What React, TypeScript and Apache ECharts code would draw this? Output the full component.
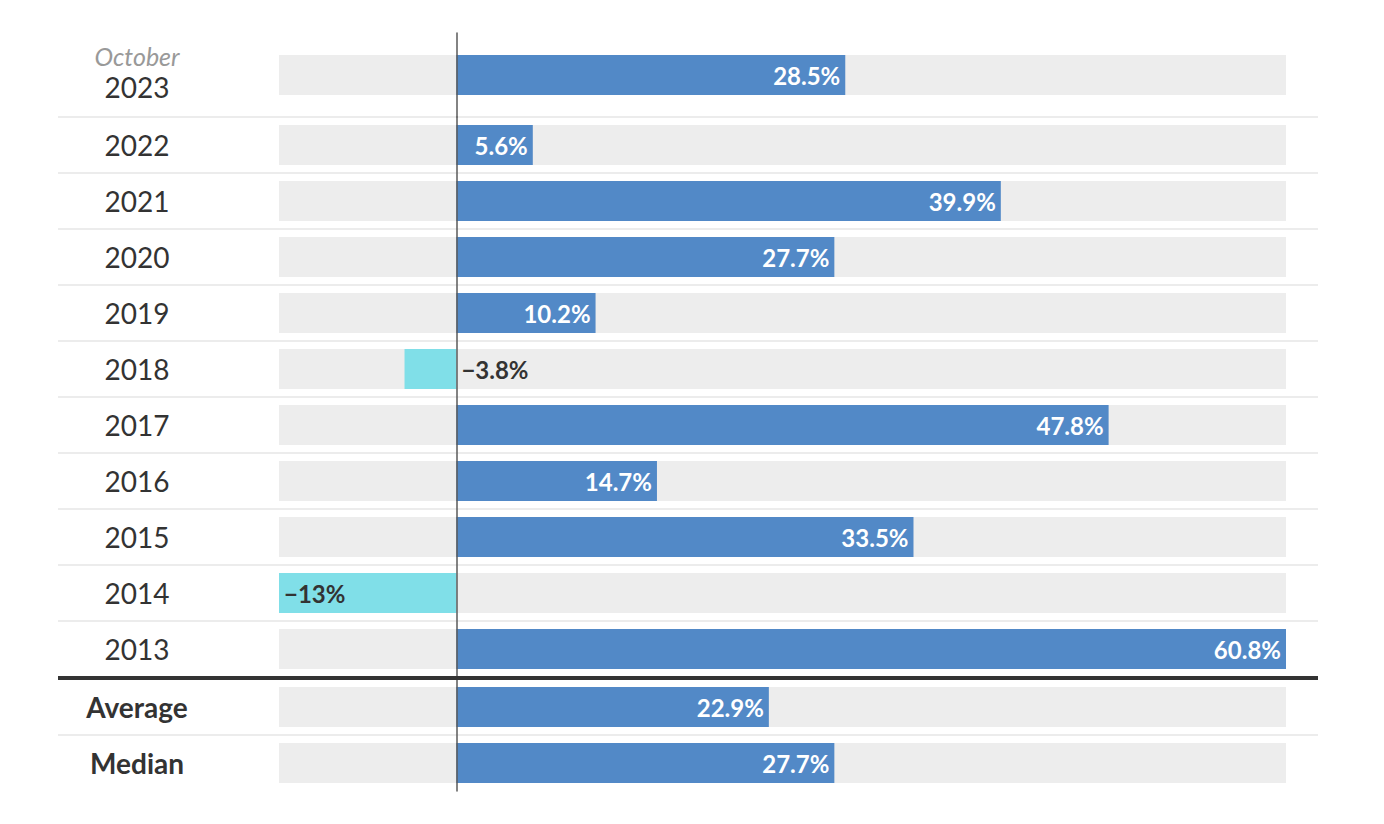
import React, { useEffect, useRef } from "react";
import * as echarts from "echarts";

const topCategories = ["2023"];
const topValues = [28.5];
const yearCategories = ["2022", "2021", "2020", "2019", "2018", "2017", "2016", "2015", "2014", "2013"];
const yearValues = [5.6, 39.9, 27.7, 10.2, -3.8, 47.8, 14.7, 33.5, -13, 60.8];
const summaryCategories = ["Average", "Median"];
const summaryValues = [22.9, 27.7];
const topNote = "October";

const FONT = "Lato, 'Noto Sans', sans-serif";
const BLUE = "#5289c7";
const CYAN = "#80dfe8";
const BG = "#ededed";
const X_MIN = -13;
const X_MAX = 60.8;

function fmt(v: number): string {
  const s = String(Math.abs(v));
  return (v < 0 ? "\u2212" : "") + s + "%";
}

function makeItems(values: number[]) {
  return values.map((v) => {
    let label: any;
    if (v >= 0) {
      label = { position: "insideRight", color: "#fff" };
    } else if (Math.abs(v) < 8) {
      label = { position: "right", color: "#333" };
    } else {
      label = { position: "insideLeft", color: "#333" };
    }
    return {
      value: v,
      itemStyle: { color: v >= 0 ? BLUE : CYAN },
      label,
    };
  });
}

export default function App() {
  const ref = useRef<HTMLDivElement>(null);
  useEffect(() => {
    document.body.style.margin = "0";
    if (!ref.current) return;
    const chart = echarts.init(ref.current, undefined, { renderer: "svg" });

    const grids = [
      { left: 279, right: 98, top: 33, height: 84 },
      { left: 279, right: 98, top: 117, height: 560 },
      { left: 279, right: 98, top: 679, height: 112 },
    ];
    const cats = [topCategories, yearCategories, summaryCategories];
    const vals = [topValues, yearValues, summaryValues];

    const xAxis = grids.map((_, i) => ({
      type: "value",
      gridIndex: i,
      min: X_MIN,
      max: X_MAX,
      show: false,
    }));

    const yAxis = grids.map((_, i) => ({
      type: "category",
      gridIndex: i,
      data: cats[i],
      inverse: true,
      axisTick: { show: false },
      splitLine: { show: false },
      axisLine: { show: true, onZero: true, lineStyle: { color: "#5a5a5a", width: 1.5 } },
      axisLabel: {
        margin: 142,
        align: "center",
        fontFamily: FONT,
        fontSize: 28,
        color: "#333",
        fontWeight: i === 2 ? "bold" : "normal",
        padding: i === 0 ? [0, 0, 8, 0] : 0,
        formatter:
          i === 0
            ? (v: string) => `{o|${topNote}}\n{y|${v}}`
            : undefined,
        rich:
          i === 0
            ? {
                o: { fontFamily: FONT, fontSize: 25, fontStyle: "italic", color: "#999", lineHeight: 31, align: "center" },
                y: { fontFamily: FONT, fontSize: 28, color: "#333", lineHeight: 31, align: "center" },
              }
            : undefined,
      },
      z: 5,
    }));

    const series = grids.map((_, i) => ({
      type: "bar",
      xAxisIndex: i,
      yAxisIndex: i,
      barWidth: 40,
      showBackground: true,
      backgroundStyle: { color: BG },
      data: makeItems(vals[i]),
      label: {
        show: true,
        distance: 5,
        fontFamily: FONT,
        fontSize: 24,
        fontWeight: "bold",
        formatter: (p: any) => fmt(p.value),
      },
    }));

    const sepYs = [117, 173, 229, 285, 341, 397, 453, 509, 565, 621, 735];
    const graphic: any[] = sepYs.map((y) => ({
      type: "line",
      shape: { x1: 58, y1: y, x2: 1318, y2: y },
      style: { stroke: "#ececec", lineWidth: 2 },
      z: 0,
    }));
    graphic.push({
      type: "line",
      shape: { x1: 58, y1: 678, x2: 1318, y2: 678 },
      style: { stroke: "#333", lineWidth: 4 },
      z: 10,
    });

    chart.setOption({
      animation: false,
      grid: grids,
      xAxis,
      yAxis,
      series,
      graphic,
    });
    return () => chart.dispose();
  }, []);
  return <div ref={ref} style={{ width: 1384, height: 824 }} />;
}
